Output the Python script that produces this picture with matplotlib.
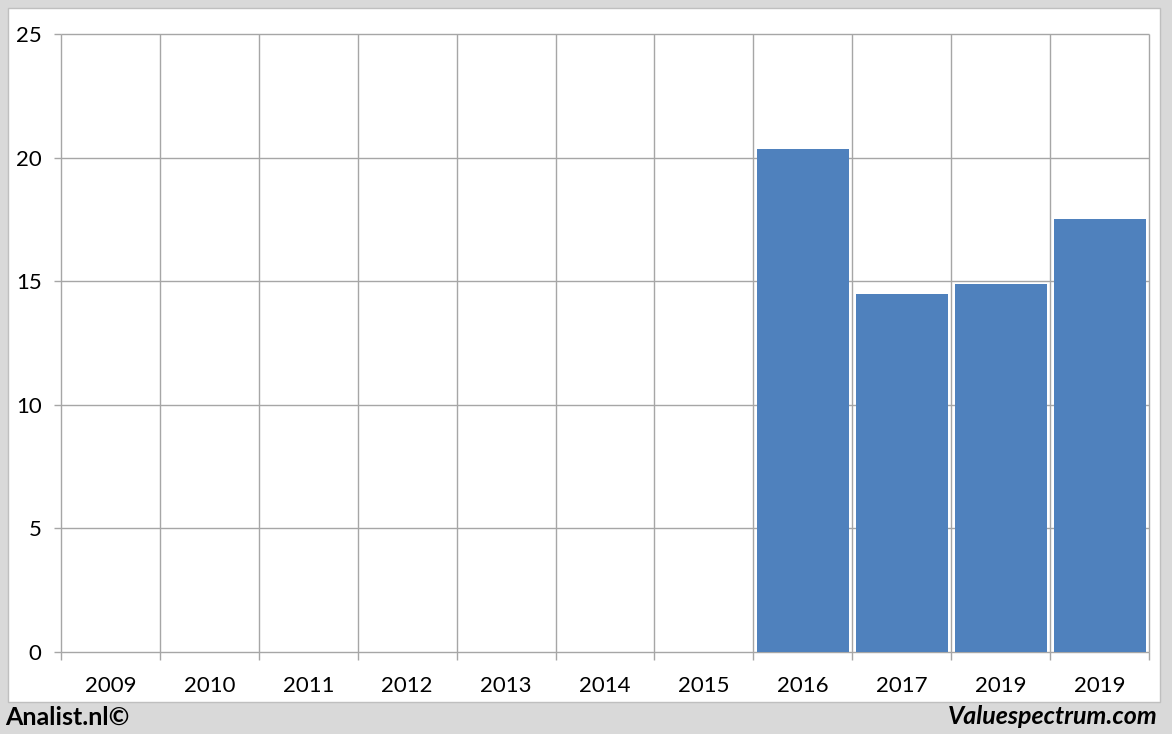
import matplotlib.pyplot as plt
from matplotlib.patches import Rectangle
from matplotlib.ticker import FixedLocator

# chart data
years = ["2009", "2010", "2011", "2012", "2013", "2014", "2015", "2016", "2017", "2019", "2019"]
values = [0, 0, 0, 0, 0, 0, 0, 20.35, 14.48, 14.89, 17.52]
y_ticks = [0, 5, 10, 15, 20, 25]

W, H = 1172, 734
BAR_COLOR = "#4f81bd"
GRID_COLOR = "#a6a6a6"
FONT = ["Lato", "DejaVu Sans"]

fig = plt.figure(figsize=(W / 100, H / 100), dpi=100)
fig.patch.set_facecolor("#d9d9d9")

# white panel behind the chart
fig.patches.append(
    Rectangle((8 / W, 1 - 702 / H), (1160 - 8) / W, (702 - 8) / H,
              transform=fig.transFigure, facecolor="white",
              edgecolor="#bfbfbf", linewidth=1, zorder=-10)
)

ax = fig.add_axes([61 / W, 1 - 652 / H, (1149 - 61) / W, (652 - 34) / H])
ax.set_zorder(5)
ax.set_facecolor("none")

x = list(range(len(years)))
bounds = [i - 0.5 for i in range(len(years) + 1)]

# grid drawn by hand so the edge lines are not clipped
ax.vlines(bounds, 0, y_ticks[-1], color=GRID_COLOR, linewidth=1, clip_on=False, zorder=1)
ax.hlines(y_ticks, bounds[0], bounds[-1], color=GRID_COLOR, linewidth=1, clip_on=False, zorder=1)

ax.bar(x, values, width=0.93, color=BAR_COLOR, zorder=3)

ax.set_xlim(bounds[0], bounds[-1])
ax.set_ylim(y_ticks[0], y_ticks[-1])
ax.set_yticks(y_ticks)

ax.set_xticks(x)
ax.set_xticklabels(years)
ax.xaxis.set_minor_locator(FixedLocator(bounds))

for s in ax.spines.values():
    s.set_visible(False)

ax.tick_params(axis="x", which="major", length=0, pad=17, labelsize=16)
ax.tick_params(axis="x", which="minor", length=6, color=GRID_COLOR, width=1)
ax.tick_params(axis="y", length=5, color=GRID_COLOR, width=1, pad=9, labelsize=16)
for lbl in ax.get_xticklabels() + ax.get_yticklabels():
    lbl.set_family(FONT)

fig.text(5 / W, 1 - 717 / H, "Analist.nl©", fontsize=18, fontweight="bold",
         family=FONT, ha="left", va="center")
fig.text(1158 / W, 1 - 717 / H, "Valuespectrum.com", fontsize=18, fontweight="bold",
         fontstyle="italic", family=FONT, ha="right", va="center")

fig.savefig("out.png", dpi=100, facecolor=fig.get_facecolor())
